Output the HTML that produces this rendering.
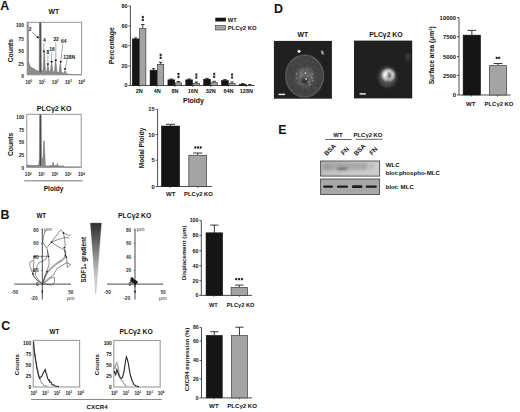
<!DOCTYPE html>
<html><head><meta charset="utf-8"><style>
html,body{margin:0;padding:0;background:#fff;width:520px;height:412px;overflow:hidden}
svg{display:block;font-family:"Liberation Sans",sans-serif}
</style></head><body>
<svg width="520" height="412" viewBox="0 0 520 412">
<defs><linearGradient id="gr" x1="0" y1="0" x2="0" y2="1"><stop offset="0" stop-color="#2e2e2e"/><stop offset="0.35" stop-color="#747474"/><stop offset="0.68" stop-color="#bdbdbd"/><stop offset="1" stop-color="#f8f8f8"/></linearGradient><radialGradient id="cell1" cx="0.5" cy="0.5" r="0.5"><stop offset="0" stop-color="#6e6e6e"/><stop offset="0.3" stop-color="#585858"/><stop offset="0.6" stop-color="#424242"/><stop offset="0.88" stop-color="#474747"/><stop offset="1" stop-color="#333"/></radialGradient><radialGradient id="cell2" cx="0.5" cy="0.5" r="0.5"><stop offset="0" stop-color="#6a6a6a"/><stop offset="0.35" stop-color="#5a5a5a"/><stop offset="0.8" stop-color="#444"/><stop offset="1" stop-color="#262626"/></radialGradient><filter id="nz" x="0" y="0" width="100%" height="100%"><feTurbulence type="fractalNoise" baseFrequency="0.55" numOctaves="2" seed="3"/><feColorMatrix type="matrix" values="0 0 0 0 1  0 0 0 0 1  0 0 0 0 1  0.9 0 0 0 -0.25"/><feComposite in2="SourceGraphic" operator="in"/></filter><clipPath id="cc1"><ellipse cx="304.6" cy="76" rx="19.6" ry="21.6"/></clipPath><filter id="bl2" x="-50%" y="-50%" width="200%" height="200%"><feGaussianBlur stdDeviation="2"/></filter><filter id="bl08" x="-50%" y="-50%" width="200%" height="200%"><feGaussianBlur stdDeviation="0.8"/></filter><linearGradient id="s1" x1="0" y1="0" x2="1" y2="0"><stop offset="0" stop-color="#b2b2b2"/><stop offset="0.5" stop-color="#c0c0c0"/><stop offset="1" stop-color="#cecece"/></linearGradient><filter id="bl1" x="-50%" y="-50%" width="200%" height="200%"><feGaussianBlur stdDeviation="0.9"/></filter><filter id="bl05" x="-50%" y="-50%" width="200%" height="200%"><feGaussianBlur stdDeviation="0.45"/></filter></defs>
<rect x="0" y="0" width="520" height="412" fill="#fff"/>
<text x="0.30" y="10.40" font-size="12.4" text-anchor="start" font-weight="bold" fill="#111">A</text>
<text x="0.60" y="219.40" font-size="12.4" text-anchor="start" font-weight="bold" fill="#111">B</text>
<text x="1.30" y="329.80" font-size="12.4" text-anchor="start" font-weight="bold" fill="#111">C</text>
<text x="274.00" y="13.10" font-size="12.4" text-anchor="start" font-weight="bold" fill="#111">D</text>
<text x="278.20" y="133.80" font-size="12.4" text-anchor="start" font-weight="bold" fill="#111">E</text>
<text x="53.80" y="14.10" font-size="6.8" text-anchor="middle" font-weight="bold" fill="#111">WT</text>
<path d="M27.30,74.70 L27.30,22.30 L28.30,22.30 L28.60,62.12 L29.50,64.74 L30.50,66.84 L32.00,67.89 L33.50,68.41 L35.00,69.46 L36.50,70.51 L38.00,71.03 L39.20,70.51 L39.50,22.30 L41.10,22.30 L41.40,69.98 L42.80,71.03 L43.00,71.03 L43.95,52.17 L44.45,52.17 L45.40,71.03 L46.30,71.56 L46.70,71.56 L47.65,65.79 L48.15,65.79 L49.10,71.56 L50.40,71.56 L51.35,63.70 L51.85,63.70 L52.80,71.56 L54.50,72.08 L55.45,62.12 L55.95,62.12 L56.90,72.08 L59.10,72.60 L60.05,63.70 L60.55,63.70 L61.50,72.60 L63.90,73.13 L64.75,71.03 L65.25,71.03 L66.10,73.13 L68.00,73.91 L72.00,74.44 L81.60,74.70 Z" fill="#8c8c8c" stroke="#5a5a5a" stroke-width="0.45"/>
<line x1="40.30" y1="22.30" x2="40.30" y2="72.60" stroke="#4a4a4a" stroke-width="1.2"/>
<rect x="27.30" y="22.30" width="54.30" height="52.40" fill="none" stroke="#959595" stroke-width="1.0"/>
<text x="23.80" y="26.80" font-size="4.7" text-anchor="end" font-weight="bold" fill="#111">100</text>
<text x="23.80" y="40.60" font-size="4.7" text-anchor="end" font-weight="bold" fill="#111">75</text>
<text x="23.80" y="53.20" font-size="4.7" text-anchor="end" font-weight="bold" fill="#111">50</text>
<text x="23.80" y="66.10" font-size="4.7" text-anchor="end" font-weight="bold" fill="#111">25</text>
<text x="23.80" y="77.50" font-size="4.7" text-anchor="end" font-weight="bold" fill="#111">0</text>
<text x="28.80" y="83.5" font-size="4.6" text-anchor="middle" font-weight="bold" fill="#222">10<tspan dy="-1.6" font-size="2.85">0</tspan></text>
<text x="42.00" y="83.5" font-size="4.6" text-anchor="middle" font-weight="bold" fill="#222">10<tspan dy="-1.6" font-size="2.85">1</tspan></text>
<text x="55.20" y="83.5" font-size="4.6" text-anchor="middle" font-weight="bold" fill="#222">10<tspan dy="-1.6" font-size="2.85">2</tspan></text>
<text x="68.40" y="83.5" font-size="4.6" text-anchor="middle" font-weight="bold" fill="#222">10<tspan dy="-1.6" font-size="2.85">3</tspan></text>
<text x="81.60" y="83.5" font-size="4.6" text-anchor="middle" font-weight="bold" fill="#222">10<tspan dy="-1.6" font-size="2.85">4</tspan></text>
<text x="12.70" y="50.60" font-size="6.8" text-anchor="middle" font-weight="bold" fill="#111" transform="rotate(-90 12.7 50.6)">Counts</text>
<text x="28.80" y="31.40" font-size="4.9" text-anchor="start" font-weight="bold" fill="#111">2</text>
<line x1="32.30" y1="32.40" x2="38.90" y2="38.30" stroke="#333" stroke-width="0.6"/>
<path d="M38.90,38.30 L36.32,37.74 L38.05,35.80 Z" fill="#111"/>
<text x="43.00" y="41.70" font-size="4.9" text-anchor="start" font-weight="bold" fill="#111">4</text>
<line x1="43.90" y1="42.80" x2="43.90" y2="52.80" stroke="#8a8a8a" stroke-width="0.7"/>
<path d="M43.90,52.80 L42.60,50.50 L45.20,50.50 Z" fill="#111"/>
<text x="46.60" y="54.40" font-size="4.9" text-anchor="start" font-weight="bold" fill="#111">8</text>
<line x1="47.90" y1="55.30" x2="47.90" y2="65.80" stroke="#8a8a8a" stroke-width="0.7"/>
<path d="M47.90,65.80 L46.60,63.50 L49.20,63.50 Z" fill="#111"/>
<text x="49.30" y="51.40" font-size="4.9" text-anchor="start" font-weight="bold" fill="#111">16</text>
<line x1="51.60" y1="52.40" x2="51.60" y2="63.40" stroke="#8a8a8a" stroke-width="0.7"/>
<path d="M51.60,63.40 L50.30,61.10 L52.90,61.10 Z" fill="#111"/>
<text x="53.20" y="41.10" font-size="4.9" text-anchor="start" font-weight="bold" fill="#111">32</text>
<line x1="55.80" y1="42.10" x2="55.80" y2="61.90" stroke="#8a8a8a" stroke-width="0.7"/>
<path d="M55.80,61.90 L54.50,59.60 L57.10,59.60 Z" fill="#111"/>
<text x="61.10" y="42.90" font-size="4.9" text-anchor="start" font-weight="bold" fill="#111">64</text>
<line x1="62.80" y1="43.60" x2="60.60" y2="63.40" stroke="#8a8a8a" stroke-width="0.7"/>
<path d="M60.60,63.40 L59.56,60.97 L62.15,61.26 Z" fill="#111"/>
<text x="63.30" y="58.80" font-size="4.9" text-anchor="start" font-weight="bold" fill="#111">128N</text>
<line x1="67.20" y1="59.40" x2="64.80" y2="70.40" stroke="#8a8a8a" stroke-width="0.7"/>
<path d="M64.80,70.40 L64.02,67.88 L66.56,68.43 Z" fill="#111"/>
<text x="54.10" y="110.50" font-size="7.1" text-anchor="middle" font-weight="bold" fill="#111">PLC&#947;2 KO</text>
<path d="M26.80,167.20 L26.80,165.08 L30.00,165.35 L36.00,165.61 L38.80,165.08 L39.40,158.74 L39.70,114.30 L41.20,114.30 L41.50,158.21 L43.00,158.74 L43.80,140.75 L44.20,140.75 L45.00,158.74 L45.30,165.61 L48.00,166.14 L50.00,165.61 L52.50,165.61 L53.10,161.91 L53.80,165.61 L56.80,165.61 L57.50,163.50 L58.20,165.88 L62.50,166.14 L63.00,165.35 L63.60,166.67 L66.00,166.94 L81.20,167.20 Z" fill="#8c8c8c" stroke="#5a5a5a" stroke-width="0.45"/>
<line x1="40.45" y1="114.30" x2="40.45" y2="165.61" stroke="#4a4a4a" stroke-width="1.2"/>
<rect x="26.80" y="114.30" width="54.40" height="52.90" fill="none" stroke="#959595" stroke-width="1.0"/>
<text x="24.20" y="118.90" font-size="4.7" text-anchor="end" font-weight="bold" fill="#111">100</text>
<text x="24.20" y="131.60" font-size="4.7" text-anchor="end" font-weight="bold" fill="#111">75</text>
<text x="24.20" y="144.30" font-size="4.7" text-anchor="end" font-weight="bold" fill="#111">50</text>
<text x="24.20" y="157.00" font-size="4.7" text-anchor="end" font-weight="bold" fill="#111">25</text>
<text x="24.20" y="169.70" font-size="4.7" text-anchor="end" font-weight="bold" fill="#111">0</text>
<text x="28.20" y="176.2" font-size="4.6" text-anchor="middle" font-weight="bold" fill="#222">10<tspan dy="-1.6" font-size="2.85">0</tspan></text>
<text x="41.50" y="176.2" font-size="4.6" text-anchor="middle" font-weight="bold" fill="#222">10<tspan dy="-1.6" font-size="2.85">1</tspan></text>
<text x="54.80" y="176.2" font-size="4.6" text-anchor="middle" font-weight="bold" fill="#222">10<tspan dy="-1.6" font-size="2.85">2</tspan></text>
<text x="68.10" y="176.2" font-size="4.6" text-anchor="middle" font-weight="bold" fill="#222">10<tspan dy="-1.6" font-size="2.85">3</tspan></text>
<text x="81.40" y="176.2" font-size="4.6" text-anchor="middle" font-weight="bold" fill="#222">10<tspan dy="-1.6" font-size="2.85">4</tspan></text>
<text x="12.70" y="144.40" font-size="6.8" text-anchor="middle" font-weight="bold" fill="#111" transform="rotate(-90 12.7 144.4)">Counts</text>
<line x1="24.20" y1="180.80" x2="82.70" y2="180.80" stroke="#a2a2a2" stroke-width="1.6"/>
<text x="53.60" y="191.40" font-size="6.6" text-anchor="middle" font-weight="bold" fill="#111">Ploidy</text>
<line x1="130.40" y1="6.00" x2="130.40" y2="85.50" stroke="#3a3a3a" stroke-width="0.9"/>
<line x1="128.40" y1="6.00" x2="130.40" y2="6.00" stroke="#3a3a3a" stroke-width="0.9"/>
<text x="127.40" y="7.94" font-size="5.4" text-anchor="end" font-weight="bold" fill="#111">80</text>
<line x1="128.40" y1="25.90" x2="130.40" y2="25.90" stroke="#3a3a3a" stroke-width="0.9"/>
<text x="127.40" y="27.84" font-size="5.4" text-anchor="end" font-weight="bold" fill="#111">60</text>
<line x1="128.40" y1="45.70" x2="130.40" y2="45.70" stroke="#3a3a3a" stroke-width="0.9"/>
<text x="127.40" y="47.64" font-size="5.4" text-anchor="end" font-weight="bold" fill="#111">40</text>
<line x1="128.40" y1="65.90" x2="130.40" y2="65.90" stroke="#3a3a3a" stroke-width="0.9"/>
<text x="127.40" y="67.84" font-size="5.4" text-anchor="end" font-weight="bold" fill="#111">20</text>
<line x1="128.40" y1="85.50" x2="130.40" y2="85.50" stroke="#3a3a3a" stroke-width="0.9"/>
<text x="127.40" y="87.44" font-size="5.4" text-anchor="end" font-weight="bold" fill="#111">0</text>
<line x1="130.40" y1="85.50" x2="254.50" y2="85.50" stroke="#3a3a3a" stroke-width="0.9"/>
<line x1="139.30" y1="85.50" x2="139.30" y2="87.00" stroke="#3a3a3a" stroke-width="0.7"/>
<line x1="157.15" y1="85.50" x2="157.15" y2="87.00" stroke="#3a3a3a" stroke-width="0.7"/>
<line x1="175.00" y1="85.50" x2="175.00" y2="87.00" stroke="#3a3a3a" stroke-width="0.7"/>
<line x1="192.85" y1="85.50" x2="192.85" y2="87.00" stroke="#3a3a3a" stroke-width="0.7"/>
<line x1="210.70" y1="85.50" x2="210.70" y2="87.00" stroke="#3a3a3a" stroke-width="0.7"/>
<line x1="228.55" y1="85.50" x2="228.55" y2="87.00" stroke="#3a3a3a" stroke-width="0.7"/>
<line x1="246.40" y1="85.50" x2="246.40" y2="87.00" stroke="#3a3a3a" stroke-width="0.7"/>
<line x1="135.65" y1="38.90" x2="135.65" y2="37.90" stroke="#222" stroke-width="0.9"/>
<line x1="133.92" y1="37.90" x2="137.37" y2="37.90" stroke="#222" stroke-width="0.9"/>
<rect x="132.20" y="38.90" width="6.90" height="46.60" fill="#151515" stroke="#111" stroke-width="0.5"/>
<line x1="142.75" y1="28.00" x2="142.75" y2="24.50" stroke="#222" stroke-width="0.9"/>
<line x1="141.03" y1="24.50" x2="144.47" y2="24.50" stroke="#222" stroke-width="0.9"/>
<rect x="139.65" y="28.35" width="6.20" height="57.15" fill="#a4a4a4" stroke="#3a3a3a" stroke-width="0.7"/>
<line x1="153.50" y1="70.20" x2="153.50" y2="68.70" stroke="#222" stroke-width="0.9"/>
<line x1="151.78" y1="68.70" x2="155.22" y2="68.70" stroke="#222" stroke-width="0.9"/>
<rect x="150.05" y="70.20" width="6.90" height="15.30" fill="#151515" stroke="#111" stroke-width="0.5"/>
<line x1="160.60" y1="64.00" x2="160.60" y2="62.30" stroke="#222" stroke-width="0.9"/>
<line x1="158.87" y1="62.30" x2="162.32" y2="62.30" stroke="#222" stroke-width="0.9"/>
<rect x="157.50" y="64.35" width="6.20" height="21.15" fill="#a4a4a4" stroke="#3a3a3a" stroke-width="0.7"/>
<line x1="171.35" y1="79.80" x2="171.35" y2="79.00" stroke="#222" stroke-width="0.9"/>
<line x1="169.62" y1="79.00" x2="173.07" y2="79.00" stroke="#222" stroke-width="0.9"/>
<rect x="167.90" y="79.80" width="6.90" height="5.70" fill="#151515" stroke="#111" stroke-width="0.5"/>
<line x1="178.45" y1="82.50" x2="178.45" y2="81.50" stroke="#222" stroke-width="0.9"/>
<line x1="176.72" y1="81.50" x2="180.17" y2="81.50" stroke="#222" stroke-width="0.9"/>
<rect x="175.35" y="82.85" width="6.20" height="2.65" fill="#a4a4a4" stroke="#3a3a3a" stroke-width="0.7"/>
<line x1="189.20" y1="79.80" x2="189.20" y2="79.00" stroke="#222" stroke-width="0.9"/>
<line x1="187.47" y1="79.00" x2="190.92" y2="79.00" stroke="#222" stroke-width="0.9"/>
<rect x="185.75" y="79.80" width="6.90" height="5.70" fill="#151515" stroke="#111" stroke-width="0.5"/>
<line x1="196.30" y1="83.00" x2="196.30" y2="82.00" stroke="#222" stroke-width="0.9"/>
<line x1="194.58" y1="82.00" x2="198.03" y2="82.00" stroke="#222" stroke-width="0.9"/>
<rect x="193.20" y="83.35" width="6.20" height="2.15" fill="#a4a4a4" stroke="#3a3a3a" stroke-width="0.7"/>
<line x1="207.05" y1="79.20" x2="207.05" y2="78.40" stroke="#222" stroke-width="0.9"/>
<line x1="205.33" y1="78.40" x2="208.78" y2="78.40" stroke="#222" stroke-width="0.9"/>
<rect x="203.60" y="79.20" width="6.90" height="6.30" fill="#151515" stroke="#111" stroke-width="0.5"/>
<line x1="214.15" y1="82.30" x2="214.15" y2="81.30" stroke="#222" stroke-width="0.9"/>
<line x1="212.42" y1="81.30" x2="215.87" y2="81.30" stroke="#222" stroke-width="0.9"/>
<rect x="211.05" y="82.65" width="6.20" height="2.85" fill="#a4a4a4" stroke="#3a3a3a" stroke-width="0.7"/>
<line x1="224.90" y1="80.40" x2="224.90" y2="79.60" stroke="#222" stroke-width="0.9"/>
<line x1="223.17" y1="79.60" x2="226.62" y2="79.60" stroke="#222" stroke-width="0.9"/>
<rect x="221.45" y="80.40" width="6.90" height="5.10" fill="#151515" stroke="#111" stroke-width="0.5"/>
<line x1="232.00" y1="83.00" x2="232.00" y2="82.00" stroke="#222" stroke-width="0.9"/>
<line x1="230.28" y1="82.00" x2="233.72" y2="82.00" stroke="#222" stroke-width="0.9"/>
<rect x="228.90" y="83.35" width="6.20" height="2.15" fill="#a4a4a4" stroke="#3a3a3a" stroke-width="0.7"/>
<line x1="242.75" y1="84.20" x2="242.75" y2="83.60" stroke="#222" stroke-width="0.9"/>
<line x1="241.03" y1="83.60" x2="244.47" y2="83.60" stroke="#222" stroke-width="0.9"/>
<rect x="239.30" y="84.20" width="6.90" height="1.30" fill="#151515" stroke="#111" stroke-width="0.5"/>
<line x1="249.85" y1="85.00" x2="249.85" y2="84.50" stroke="#222" stroke-width="0.9"/>
<line x1="248.13" y1="84.50" x2="251.58" y2="84.50" stroke="#222" stroke-width="0.9"/>
<rect x="246.75" y="85.35" width="6.20" height="0.15" fill="#a4a4a4" stroke="#3a3a3a" stroke-width="0.7"/>
<line x1="142.80" y1="15.85" x2="142.80" y2="18.35" stroke="#111" stroke-width="0.85"/>
<line x1="143.88" y1="16.48" x2="141.72" y2="17.73" stroke="#111" stroke-width="0.85"/>
<line x1="143.88" y1="17.73" x2="141.72" y2="16.48" stroke="#111" stroke-width="0.85"/>
<line x1="142.80" y1="18.75" x2="142.80" y2="21.25" stroke="#111" stroke-width="0.85"/>
<line x1="143.88" y1="19.38" x2="141.72" y2="20.62" stroke="#111" stroke-width="0.85"/>
<line x1="143.88" y1="20.62" x2="141.72" y2="19.38" stroke="#111" stroke-width="0.85"/>
<text x="139.30" y="92.90" font-size="5.5" text-anchor="middle" font-weight="bold" fill="#111">2N</text>
<line x1="160.65" y1="53.65" x2="160.65" y2="56.15" stroke="#111" stroke-width="0.85"/>
<line x1="161.73" y1="54.27" x2="159.57" y2="55.52" stroke="#111" stroke-width="0.85"/>
<line x1="161.73" y1="55.52" x2="159.57" y2="54.27" stroke="#111" stroke-width="0.85"/>
<line x1="160.65" y1="56.55" x2="160.65" y2="59.05" stroke="#111" stroke-width="0.85"/>
<line x1="161.73" y1="57.17" x2="159.57" y2="58.42" stroke="#111" stroke-width="0.85"/>
<line x1="161.73" y1="58.42" x2="159.57" y2="57.17" stroke="#111" stroke-width="0.85"/>
<text x="157.15" y="92.90" font-size="5.5" text-anchor="middle" font-weight="bold" fill="#111">4N</text>
<line x1="178.50" y1="72.85" x2="178.50" y2="75.35" stroke="#111" stroke-width="0.85"/>
<line x1="179.58" y1="73.47" x2="177.42" y2="74.72" stroke="#111" stroke-width="0.85"/>
<line x1="179.58" y1="74.72" x2="177.42" y2="73.47" stroke="#111" stroke-width="0.85"/>
<line x1="178.50" y1="75.75" x2="178.50" y2="78.25" stroke="#111" stroke-width="0.85"/>
<line x1="179.58" y1="76.38" x2="177.42" y2="77.62" stroke="#111" stroke-width="0.85"/>
<line x1="179.58" y1="77.62" x2="177.42" y2="76.38" stroke="#111" stroke-width="0.85"/>
<text x="175.00" y="92.90" font-size="5.5" text-anchor="middle" font-weight="bold" fill="#111">8N</text>
<line x1="196.35" y1="73.35" x2="196.35" y2="75.85" stroke="#111" stroke-width="0.85"/>
<line x1="197.43" y1="73.97" x2="195.27" y2="75.22" stroke="#111" stroke-width="0.85"/>
<line x1="197.43" y1="75.22" x2="195.27" y2="73.97" stroke="#111" stroke-width="0.85"/>
<line x1="196.35" y1="76.25" x2="196.35" y2="78.75" stroke="#111" stroke-width="0.85"/>
<line x1="197.43" y1="76.88" x2="195.27" y2="78.12" stroke="#111" stroke-width="0.85"/>
<line x1="197.43" y1="78.12" x2="195.27" y2="76.88" stroke="#111" stroke-width="0.85"/>
<text x="192.85" y="92.90" font-size="5.5" text-anchor="middle" font-weight="bold" fill="#111">16N</text>
<line x1="214.20" y1="72.65" x2="214.20" y2="75.15" stroke="#111" stroke-width="0.85"/>
<line x1="215.28" y1="73.27" x2="213.12" y2="74.52" stroke="#111" stroke-width="0.85"/>
<line x1="215.28" y1="74.52" x2="213.12" y2="73.27" stroke="#111" stroke-width="0.85"/>
<line x1="214.20" y1="75.55" x2="214.20" y2="78.05" stroke="#111" stroke-width="0.85"/>
<line x1="215.28" y1="76.17" x2="213.12" y2="77.42" stroke="#111" stroke-width="0.85"/>
<line x1="215.28" y1="77.42" x2="213.12" y2="76.17" stroke="#111" stroke-width="0.85"/>
<text x="210.70" y="92.90" font-size="5.5" text-anchor="middle" font-weight="bold" fill="#111">32N</text>
<line x1="232.05" y1="73.35" x2="232.05" y2="75.85" stroke="#111" stroke-width="0.85"/>
<line x1="233.13" y1="73.97" x2="230.97" y2="75.22" stroke="#111" stroke-width="0.85"/>
<line x1="233.13" y1="75.22" x2="230.97" y2="73.97" stroke="#111" stroke-width="0.85"/>
<line x1="232.05" y1="76.25" x2="232.05" y2="78.75" stroke="#111" stroke-width="0.85"/>
<line x1="233.13" y1="76.88" x2="230.97" y2="78.12" stroke="#111" stroke-width="0.85"/>
<line x1="233.13" y1="78.12" x2="230.97" y2="76.88" stroke="#111" stroke-width="0.85"/>
<text x="228.55" y="92.90" font-size="5.5" text-anchor="middle" font-weight="bold" fill="#111">64N</text>
<text x="246.40" y="92.90" font-size="5.5" text-anchor="middle" font-weight="bold" fill="#111">128N</text>
<text x="113.70" y="45.70" font-size="6.9" text-anchor="middle" font-weight="bold" fill="#111" transform="rotate(-90 113.7 45.7)">Percentage</text>
<text x="193.50" y="102.90" font-size="7.0" text-anchor="middle" font-weight="bold" fill="#111">Ploidy</text>
<rect x="215.30" y="17.70" width="10.60" height="3.80" fill="#151515" stroke="none" stroke-width="1"/>
<text x="227.80" y="21.60" font-size="5.9" text-anchor="start" font-weight="bold" fill="#111">WT</text>
<rect x="215.60" y="25.50" width="10.00" height="4.50" fill="#a4a4a4" stroke="#333" stroke-width="0.6"/>
<text x="227.80" y="30.20" font-size="5.9" text-anchor="start" font-weight="bold" fill="#111">PLC&#947;2 KO</text>
<line x1="157.60" y1="109.40" x2="157.60" y2="186.50" stroke="#3a3a3a" stroke-width="0.9"/>
<line x1="155.60" y1="109.40" x2="157.60" y2="109.40" stroke="#3a3a3a" stroke-width="0.9"/>
<text x="154.60" y="111.45" font-size="5.7" text-anchor="end" font-weight="bold" fill="#111">15</text>
<line x1="155.60" y1="134.50" x2="157.60" y2="134.50" stroke="#3a3a3a" stroke-width="0.9"/>
<text x="154.60" y="136.55" font-size="5.7" text-anchor="end" font-weight="bold" fill="#111">10</text>
<line x1="155.60" y1="160.20" x2="157.60" y2="160.20" stroke="#3a3a3a" stroke-width="0.9"/>
<text x="154.60" y="162.25" font-size="5.7" text-anchor="end" font-weight="bold" fill="#111">5</text>
<line x1="155.60" y1="186.50" x2="157.60" y2="186.50" stroke="#3a3a3a" stroke-width="0.9"/>
<text x="154.60" y="188.55" font-size="5.7" text-anchor="end" font-weight="bold" fill="#111">0</text>
<line x1="157.60" y1="186.50" x2="211.90" y2="186.50" stroke="#3a3a3a" stroke-width="0.9"/>
<line x1="170.20" y1="186.50" x2="170.20" y2="188.00" stroke="#3a3a3a" stroke-width="0.7"/>
<line x1="197.70" y1="186.50" x2="197.70" y2="188.00" stroke="#3a3a3a" stroke-width="0.7"/>
<line x1="170.55" y1="126.00" x2="170.55" y2="124.30" stroke="#222" stroke-width="0.9"/>
<line x1="165.98" y1="124.30" x2="175.12" y2="124.30" stroke="#222" stroke-width="0.9"/>
<rect x="161.40" y="126.00" width="18.30" height="60.50" fill="#151515" stroke="#111" stroke-width="0.5"/>
<line x1="197.65" y1="154.90" x2="197.65" y2="153.00" stroke="#222" stroke-width="0.9"/>
<line x1="193.07" y1="153.00" x2="202.23" y2="153.00" stroke="#222" stroke-width="0.9"/>
<rect x="188.85" y="155.25" width="17.60" height="31.25" fill="#a4a4a4" stroke="#3a3a3a" stroke-width="0.7"/>
<line x1="195.30" y1="146.25" x2="195.30" y2="148.75" stroke="#111" stroke-width="0.85"/>
<line x1="196.38" y1="146.88" x2="194.22" y2="148.12" stroke="#111" stroke-width="0.85"/>
<line x1="196.38" y1="148.12" x2="194.22" y2="146.88" stroke="#111" stroke-width="0.85"/>
<line x1="198.00" y1="146.25" x2="198.00" y2="148.75" stroke="#111" stroke-width="0.85"/>
<line x1="199.08" y1="146.88" x2="196.92" y2="148.12" stroke="#111" stroke-width="0.85"/>
<line x1="199.08" y1="148.12" x2="196.92" y2="146.88" stroke="#111" stroke-width="0.85"/>
<line x1="200.70" y1="146.25" x2="200.70" y2="148.75" stroke="#111" stroke-width="0.85"/>
<line x1="201.78" y1="146.88" x2="199.62" y2="148.12" stroke="#111" stroke-width="0.85"/>
<line x1="201.78" y1="148.12" x2="199.62" y2="146.88" stroke="#111" stroke-width="0.85"/>
<text x="170.70" y="195.60" font-size="6.0" text-anchor="middle" font-weight="bold" fill="#111">WT</text>
<text x="198.50" y="195.60" font-size="5.9" text-anchor="middle" font-weight="bold" fill="#111">PLC&#947;2 KO</text>
<text x="144.40" y="148.00" font-size="6.6" text-anchor="middle" font-weight="bold" fill="#111" transform="rotate(-90 144.4 148.0)">Modal Ploidy</text>
<text x="41.30" y="217.70" font-size="6.3" text-anchor="middle" font-weight="bold" fill="#111">WT</text>
<text x="134.70" y="217.60" font-size="6.8" text-anchor="middle" font-weight="bold" fill="#111">PLC&#947;2 KO</text>
<line x1="14.20" y1="284.10" x2="71.00" y2="284.10" stroke="#2a2a2a" stroke-width="0.85"/>
<line x1="42.30" y1="228.50" x2="42.30" y2="299.50" stroke="#2a2a2a" stroke-width="0.85"/>
<line x1="41.00" y1="229.90" x2="42.30" y2="229.90" stroke="#3a3a3a" stroke-width="0.6"/>
<text x="38.50" y="231.60" font-size="4.7" text-anchor="end" font-weight="bold" fill="#333">80</text>
<line x1="41.00" y1="243.45" x2="42.30" y2="243.45" stroke="#3a3a3a" stroke-width="0.6"/>
<text x="38.50" y="245.15" font-size="4.7" text-anchor="end" font-weight="bold" fill="#333">60</text>
<line x1="41.00" y1="257.00" x2="42.30" y2="257.00" stroke="#3a3a3a" stroke-width="0.6"/>
<text x="38.50" y="258.70" font-size="4.7" text-anchor="end" font-weight="bold" fill="#333">40</text>
<line x1="41.00" y1="270.55" x2="42.30" y2="270.55" stroke="#3a3a3a" stroke-width="0.6"/>
<text x="38.50" y="272.25" font-size="4.7" text-anchor="end" font-weight="bold" fill="#333">20</text>
<text x="38.50" y="285.80" font-size="4.7" text-anchor="end" font-weight="bold" fill="#333">0</text>
<text x="37.60" y="299.50" font-size="4.7" text-anchor="end" font-weight="bold" fill="#333">-20</text>
<text x="14.80" y="293.60" font-size="4.7" text-anchor="middle" font-weight="bold" fill="#333">-50</text>
<text x="70.80" y="293.60" font-size="4.7" text-anchor="middle" font-weight="bold" fill="#333">50</text>
<text x="70.60" y="299.70" font-size="5.4" text-anchor="middle" font-weight="normal" fill="#333">&#956;m</text>
<text x="44.10" y="231.20" font-size="5.4" text-anchor="start" font-weight="normal" fill="#333">&#956;m</text>
<ellipse cx="42.3" cy="291.6" rx="0.8" ry="1.3" fill="#222"/>
<line x1="107.00" y1="284.10" x2="163.30" y2="284.10" stroke="#2a2a2a" stroke-width="0.85"/>
<line x1="135.00" y1="228.50" x2="135.00" y2="299.50" stroke="#2a2a2a" stroke-width="0.85"/>
<line x1="133.70" y1="229.90" x2="135.00" y2="229.90" stroke="#3a3a3a" stroke-width="0.6"/>
<text x="131.20" y="231.60" font-size="4.7" text-anchor="end" font-weight="bold" fill="#333">80</text>
<line x1="133.70" y1="243.45" x2="135.00" y2="243.45" stroke="#3a3a3a" stroke-width="0.6"/>
<text x="131.20" y="245.15" font-size="4.7" text-anchor="end" font-weight="bold" fill="#333">60</text>
<line x1="133.70" y1="257.00" x2="135.00" y2="257.00" stroke="#3a3a3a" stroke-width="0.6"/>
<text x="131.20" y="258.70" font-size="4.7" text-anchor="end" font-weight="bold" fill="#333">40</text>
<line x1="133.70" y1="270.55" x2="135.00" y2="270.55" stroke="#3a3a3a" stroke-width="0.6"/>
<text x="131.20" y="272.25" font-size="4.7" text-anchor="end" font-weight="bold" fill="#333">20</text>
<text x="131.20" y="285.80" font-size="4.7" text-anchor="end" font-weight="bold" fill="#333">0</text>
<text x="130.30" y="299.50" font-size="4.7" text-anchor="end" font-weight="bold" fill="#333">-20</text>
<text x="107.60" y="293.60" font-size="4.7" text-anchor="middle" font-weight="bold" fill="#333">-50</text>
<text x="163.10" y="293.60" font-size="4.7" text-anchor="middle" font-weight="bold" fill="#333">50</text>
<text x="162.90" y="299.70" font-size="5.4" text-anchor="middle" font-weight="normal" fill="#333">&#956;m</text>
<text x="136.80" y="231.20" font-size="5.4" text-anchor="start" font-weight="normal" fill="#333">&#956;m</text>
<ellipse cx="135.0" cy="291.6" rx="0.8" ry="1.3" fill="#222"/>
<path d="M45.30,231.00 L43.50,236.40 L42.80,241.70 L43.90,244.40 L46.60,247.90 L47.50,250.50 L47.40,254.50 L46.90,256.80 L45.50,259.70 L39.20,262.60 L37.20,265.50 L35.80,271.40 L35.30,275.20 L37.70,279.10 L41.60,283.50" fill="none" stroke="#2e2e2e" stroke-width="0.55"/>
<path d="M46.60,247.90 L51.50,242.10 L60.70,229.80 L63.40,232.80 L68.70,235.50 L70.50,234.60" fill="none" stroke="#2e2e2e" stroke-width="0.55"/>
<path d="M51.50,242.10 L58.00,239.50 L65.20,237.30 L69.60,238.20" fill="none" stroke="#2e2e2e" stroke-width="0.55"/>
<path d="M51.50,242.10 L57.20,246.10 L64.30,249.70 L66.00,253.20" fill="none" stroke="#2e2e2e" stroke-width="0.55"/>
<path d="M63.40,232.80 L64.70,239.00 L65.20,246.10 L64.70,249.70 L65.40,254.90 L66.80,259.70 L67.30,267.50 L70.70,264.60" fill="none" stroke="#2e2e2e" stroke-width="0.55"/>
<path d="M33.30,256.30 L40.00,256.30 L47.40,256.30" fill="none" stroke="#2e2e2e" stroke-width="0.55"/>
<path d="M33.80,256.30 L33.80,262.60 L33.30,269.40 L32.90,274.30 L34.00,277.00 L37.00,280.00 L40.00,282.50 L42.40,284.00" fill="none" stroke="#2e2e2e" stroke-width="0.55"/>
<path d="M32.90,260.70 L30.40,261.70 L29.90,262.60 L29.90,265.50 L31.90,271.40 L33.50,276.00 L36.50,279.50 L42.40,284.00" fill="none" stroke="#2e2e2e" stroke-width="0.55"/>
<path d="M47.40,250.00 L48.40,254.00 L48.90,259.70 L49.20,264.00 L48.00,268.00 L46.50,272.00 L45.00,276.20 L43.50,280.00 L42.40,284.00" fill="none" stroke="#2e2e2e" stroke-width="0.55"/>
<path d="M42.60,283.50 L45.00,276.20 L47.40,271.40 L51.30,267.50 L57.10,262.60 L62.00,259.70 L65.40,255.80" fill="none" stroke="#2e2e2e" stroke-width="0.55"/>
<path d="M42.80,283.60 L45.60,276.60 L48.00,272.00 L52.00,268.30 L57.60,263.40 L62.40,260.60 L65.80,256.60" fill="none" stroke="#2e2e2e" stroke-width="0.55"/>
<path d="M43.50,283.00 L47.40,279.10 L53.20,275.20 L57.10,268.40 L62.00,265.50 L66.80,262.60 L70.70,264.60" fill="none" stroke="#2e2e2e" stroke-width="0.55"/>
<path d="M42.60,284.00 L47.40,284.20 L51.30,285.20 L54.20,283.00 L54.70,279.10 L54.20,277.20 L50.30,278.20 L46.90,281.10 L44.00,283.00" fill="none" stroke="#2e2e2e" stroke-width="0.55"/>
<path d="M65.40,254.90 L64.90,250.00" fill="none" stroke="#2e2e2e" stroke-width="0.55"/>
<circle cx="34.8" cy="256.3" r="0.85" fill="#222"/>
<circle cx="33.8" cy="270.4" r="0.85" fill="#222"/>
<circle cx="32.9" cy="273.8" r="0.85" fill="#222"/>
<circle cx="51.5" cy="242.1" r="0.85" fill="#222"/>
<circle cx="63.4" cy="232.8" r="0.85" fill="#222"/>
<circle cx="64.3" cy="247.5" r="0.85" fill="#222"/>
<circle cx="65.4" cy="255.3" r="0.85" fill="#222"/>
<circle cx="66.3" cy="257" r="0.85" fill="#222"/>
<circle cx="48.5" cy="256.3" r="0.85" fill="#222"/>
<circle cx="47.0" cy="271.5" r="0.85" fill="#222"/>
<path d="M131,277.6 L132.6,277.2 L133.6,278.6 L134.2,279.6 L136,280.2 L137.6,281.4 L137.9,283 L136.5,283.6 L135.6,285.2 L135.2,287.4 L134.6,287.4 L134.5,284.6 L133,283 L131.2,282.2 L129.8,281 L130.8,280 L130.4,278.6 Z" fill="#1a1a1a"/>
<path d="M130.20,282.30 L131.50,283.50 L133.00,284.20" fill="none" stroke="#333" stroke-width="0.6"/>
<path d="M90.3,223.0 L101.5,223.0 Q98.6,258 95.8,293.3 Q93.2,258 90.3,223.0 Z" fill="url(#gr)" stroke="#777" stroke-width="0.3"/>
<text x="85.9" y="259.7" font-size="6.3" text-anchor="middle" font-weight="bold" fill="#111" transform="rotate(-90 85.9 259.7)">SDF1<tspan font-size="4.4">&#945;</tspan> gradient</text>
<line x1="201.30" y1="220.60" x2="201.30" y2="295.40" stroke="#3a3a3a" stroke-width="0.9"/>
<line x1="199.30" y1="220.60" x2="201.30" y2="220.60" stroke="#3a3a3a" stroke-width="0.9"/>
<text x="198.30" y="222.47" font-size="5.2" text-anchor="end" font-weight="bold" fill="#111">100</text>
<line x1="199.30" y1="235.40" x2="201.30" y2="235.40" stroke="#3a3a3a" stroke-width="0.9"/>
<text x="198.30" y="237.27" font-size="5.2" text-anchor="end" font-weight="bold" fill="#111">80</text>
<line x1="199.30" y1="250.80" x2="201.30" y2="250.80" stroke="#3a3a3a" stroke-width="0.9"/>
<text x="198.30" y="252.67" font-size="5.2" text-anchor="end" font-weight="bold" fill="#111">60</text>
<line x1="199.30" y1="265.80" x2="201.30" y2="265.80" stroke="#3a3a3a" stroke-width="0.9"/>
<text x="198.30" y="267.67" font-size="5.2" text-anchor="end" font-weight="bold" fill="#111">40</text>
<line x1="199.30" y1="280.80" x2="201.30" y2="280.80" stroke="#3a3a3a" stroke-width="0.9"/>
<text x="198.30" y="282.67" font-size="5.2" text-anchor="end" font-weight="bold" fill="#111">20</text>
<line x1="199.30" y1="295.40" x2="201.30" y2="295.40" stroke="#3a3a3a" stroke-width="0.9"/>
<text x="198.30" y="297.27" font-size="5.2" text-anchor="end" font-weight="bold" fill="#111">0</text>
<line x1="201.30" y1="295.40" x2="252.00" y2="295.40" stroke="#3a3a3a" stroke-width="0.9"/>
<line x1="214.00" y1="295.40" x2="214.00" y2="296.90" stroke="#3a3a3a" stroke-width="0.7"/>
<line x1="239.20" y1="295.40" x2="239.20" y2="296.90" stroke="#3a3a3a" stroke-width="0.7"/>
<line x1="214.35" y1="232.80" x2="214.35" y2="225.10" stroke="#222" stroke-width="0.9"/>
<line x1="210.18" y1="225.10" x2="218.52" y2="225.10" stroke="#222" stroke-width="0.9"/>
<rect x="206.00" y="232.80" width="16.70" height="62.60" fill="#151515" stroke="#111" stroke-width="0.5"/>
<line x1="239.30" y1="287.10" x2="239.30" y2="285.10" stroke="#222" stroke-width="0.9"/>
<line x1="235.05" y1="285.10" x2="243.55" y2="285.10" stroke="#222" stroke-width="0.9"/>
<rect x="231.15" y="287.45" width="16.30" height="7.95" fill="#a4a4a4" stroke="#3a3a3a" stroke-width="0.7"/>
<line x1="236.20" y1="277.85" x2="236.20" y2="280.35" stroke="#111" stroke-width="0.85"/>
<line x1="237.28" y1="278.48" x2="235.12" y2="279.73" stroke="#111" stroke-width="0.85"/>
<line x1="237.28" y1="279.73" x2="235.12" y2="278.48" stroke="#111" stroke-width="0.85"/>
<line x1="239.10" y1="277.85" x2="239.10" y2="280.35" stroke="#111" stroke-width="0.85"/>
<line x1="240.18" y1="278.48" x2="238.02" y2="279.73" stroke="#111" stroke-width="0.85"/>
<line x1="240.18" y1="279.73" x2="238.02" y2="278.48" stroke="#111" stroke-width="0.85"/>
<line x1="242.00" y1="277.85" x2="242.00" y2="280.35" stroke="#111" stroke-width="0.85"/>
<line x1="243.08" y1="278.48" x2="240.92" y2="279.73" stroke="#111" stroke-width="0.85"/>
<line x1="243.08" y1="279.73" x2="240.92" y2="278.48" stroke="#111" stroke-width="0.85"/>
<text x="213.30" y="306.50" font-size="5.7" text-anchor="middle" font-weight="bold" fill="#111">WT</text>
<text x="240.60" y="306.50" font-size="5.7" text-anchor="middle" font-weight="bold" fill="#111">PLC&#947;2 KO</text>
<text x="185.90" y="252.90" font-size="6.1" text-anchor="middle" font-weight="bold" fill="#111" transform="rotate(-90 185.9 252.9)">Displacement (&#956;m)</text>
<text x="54.40" y="333.70" font-size="6.3" text-anchor="middle" font-weight="bold" fill="#111">WT</text>
<text x="136.10" y="333.90" font-size="6.8" text-anchor="middle" font-weight="bold" fill="#111">PLC&#947;2 KO</text>
<rect x="33.20" y="340.40" width="46.40" height="46.60" fill="none" stroke="#9c9c9c" stroke-width="1.1"/>
<text x="31.10" y="344.95" font-size="4.8" text-anchor="end" font-weight="bold" fill="#111">100</text>
<text x="31.10" y="355.95" font-size="4.8" text-anchor="end" font-weight="bold" fill="#111">75</text>
<text x="31.10" y="366.95" font-size="4.8" text-anchor="end" font-weight="bold" fill="#111">50</text>
<text x="31.10" y="377.95" font-size="4.8" text-anchor="end" font-weight="bold" fill="#111">25</text>
<text x="31.10" y="388.95" font-size="4.8" text-anchor="end" font-weight="bold" fill="#111">0</text>
<text x="33.70" y="394.6" font-size="4.5" text-anchor="middle" font-weight="bold" fill="#222">10<tspan dy="-1.6" font-size="2.79">0</tspan></text>
<text x="45.40" y="394.6" font-size="4.5" text-anchor="middle" font-weight="bold" fill="#222">10<tspan dy="-1.6" font-size="2.79">1</tspan></text>
<text x="57.10" y="394.6" font-size="4.5" text-anchor="middle" font-weight="bold" fill="#222">10<tspan dy="-1.6" font-size="2.79">2</tspan></text>
<text x="68.80" y="394.6" font-size="4.5" text-anchor="middle" font-weight="bold" fill="#222">10<tspan dy="-1.6" font-size="2.79">3</tspan></text>
<text x="80.50" y="394.6" font-size="4.5" text-anchor="middle" font-weight="bold" fill="#222">10<tspan dy="-1.6" font-size="2.79">4</tspan></text>
<text x="19.50" y="364.60" font-size="6.2" text-anchor="middle" font-weight="bold" fill="#111" transform="rotate(-90 19.5 364.6)">Counts</text>
<rect x="113.80" y="340.50" width="46.40" height="46.50" fill="none" stroke="#9c9c9c" stroke-width="1.1"/>
<text x="111.70" y="344.95" font-size="4.8" text-anchor="end" font-weight="bold" fill="#111">100</text>
<text x="111.70" y="355.95" font-size="4.8" text-anchor="end" font-weight="bold" fill="#111">75</text>
<text x="111.70" y="366.95" font-size="4.8" text-anchor="end" font-weight="bold" fill="#111">50</text>
<text x="111.70" y="377.95" font-size="4.8" text-anchor="end" font-weight="bold" fill="#111">25</text>
<text x="111.70" y="388.95" font-size="4.8" text-anchor="end" font-weight="bold" fill="#111">0</text>
<text x="114.30" y="394.6" font-size="4.5" text-anchor="middle" font-weight="bold" fill="#222">10<tspan dy="-1.6" font-size="2.79">0</tspan></text>
<text x="126.00" y="394.6" font-size="4.5" text-anchor="middle" font-weight="bold" fill="#222">10<tspan dy="-1.6" font-size="2.79">1</tspan></text>
<text x="137.70" y="394.6" font-size="4.5" text-anchor="middle" font-weight="bold" fill="#222">10<tspan dy="-1.6" font-size="2.79">2</tspan></text>
<text x="149.40" y="394.6" font-size="4.5" text-anchor="middle" font-weight="bold" fill="#222">10<tspan dy="-1.6" font-size="2.79">3</tspan></text>
<text x="161.10" y="394.6" font-size="4.5" text-anchor="middle" font-weight="bold" fill="#222">10<tspan dy="-1.6" font-size="2.79">4</tspan></text>
<text x="99.50" y="364.60" font-size="6.2" text-anchor="middle" font-weight="bold" fill="#111" transform="rotate(-90 99.5 364.6)">Counts</text>
<path d="M33.70,345.00 L34.20,352.00 L34.80,356.00 L35.30,355.00 L36.00,364.00 L36.60,366.00 L37.20,369.50 L38.00,371.00 L38.50,374.00 L39.20,376.50 L39.80,378.50 L40.60,380.00 L41.40,382.80 L42.50,383.50 L43.90,385.30 L45.50,385.80 L47.70,386.50" fill="none" stroke="#9a9a9a" stroke-width="1.1"/>
<path d="M33.60,341.50 L34.00,349.00 L34.60,352.50 L35.10,356.50 L35.70,360.70 L36.30,363.50 L36.90,368.30 L37.60,370.50 L38.20,374.60 L38.90,376.50 L39.50,378.40 L40.50,377.50 L42.00,375.90 L43.50,372.50 L45.20,369.60 L45.80,372.00 L46.60,374.50 L47.70,378.40 L48.50,380.20 L49.20,379.80 L49.90,382.20 L50.80,382.00 L52.10,384.70 L53.50,384.90 L55.30,386.00 L57.00,386.20 L59.00,386.60" fill="none" stroke="#2e2e2e" stroke-width="1.15"/>
<path d="M113.90,369.00 L114.40,366.30 L115.10,368.00 L115.70,365.10 L116.30,363.80 L116.90,362.60 L117.50,365.00 L118.20,367.00 L118.80,372.10 L119.40,374.50 L120.10,378.40 L121.00,379.50 L122.00,380.90 L123.00,382.00 L123.90,383.50 L125.00,385.00 L126.40,386.00" fill="none" stroke="#a0a0a0" stroke-width="1.2"/>
<path d="M113.90,372.00 L114.40,371.50 L115.10,373.50 L115.70,374.60 L116.30,372.00 L116.90,369.60 L117.50,371.50 L118.20,373.40 L118.90,375.50 L119.50,376.50 L120.40,377.60 L121.40,378.40 L122.00,378.00 L122.60,377.10 L123.20,374.50 L123.90,372.10 L124.50,368.00 L125.20,363.30 L125.80,359.50 L126.40,356.90 L127.00,358.50 L127.70,360.70 L128.30,363.50 L128.90,367.00 L129.60,371.00 L130.20,374.60 L131.10,377.50 L132.10,380.90 L133.00,382.50 L134.00,384.70 L135.00,385.30 L135.90,386.00 L139.00,386.60" fill="none" stroke="#2a2a2a" stroke-width="1.15"/>
<line x1="31.00" y1="399.50" x2="162.00" y2="399.50" stroke="#8a8a8a" stroke-width="1.0"/>
<text x="97.10" y="409.30" font-size="6.2" text-anchor="middle" font-weight="bold" fill="#111">CXCR4</text>
<line x1="201.50" y1="327.60" x2="201.50" y2="397.90" stroke="#3a3a3a" stroke-width="0.9"/>
<line x1="199.50" y1="327.60" x2="201.50" y2="327.60" stroke="#3a3a3a" stroke-width="0.9"/>
<text x="198.50" y="329.40" font-size="5.0" text-anchor="end" font-weight="bold" fill="#111">80</text>
<line x1="199.50" y1="341.10" x2="201.50" y2="341.10" stroke="#3a3a3a" stroke-width="0.9"/>
<text x="198.50" y="342.90" font-size="5.0" text-anchor="end" font-weight="bold" fill="#111">60</text>
<line x1="199.50" y1="360.40" x2="201.50" y2="360.40" stroke="#3a3a3a" stroke-width="0.9"/>
<text x="198.50" y="362.20" font-size="5.0" text-anchor="end" font-weight="bold" fill="#111">40</text>
<line x1="199.50" y1="379.00" x2="201.50" y2="379.00" stroke="#3a3a3a" stroke-width="0.9"/>
<text x="198.50" y="380.80" font-size="5.0" text-anchor="end" font-weight="bold" fill="#111">20</text>
<line x1="199.50" y1="397.90" x2="201.50" y2="397.90" stroke="#3a3a3a" stroke-width="0.9"/>
<text x="198.50" y="399.70" font-size="5.0" text-anchor="end" font-weight="bold" fill="#111">0</text>
<line x1="201.50" y1="397.90" x2="252.00" y2="397.90" stroke="#3a3a3a" stroke-width="0.9"/>
<line x1="214.20" y1="397.90" x2="214.20" y2="399.40" stroke="#3a3a3a" stroke-width="0.7"/>
<line x1="239.40" y1="397.90" x2="239.40" y2="399.40" stroke="#3a3a3a" stroke-width="0.7"/>
<line x1="214.25" y1="335.30" x2="214.25" y2="331.70" stroke="#222" stroke-width="0.9"/>
<line x1="210.22" y1="331.70" x2="218.28" y2="331.70" stroke="#222" stroke-width="0.9"/>
<rect x="206.20" y="335.30" width="16.10" height="62.60" fill="#151515" stroke="#111" stroke-width="0.5"/>
<line x1="239.45" y1="335.30" x2="239.45" y2="327.20" stroke="#222" stroke-width="0.9"/>
<line x1="235.32" y1="327.20" x2="243.57" y2="327.20" stroke="#222" stroke-width="0.9"/>
<rect x="231.55" y="335.65" width="15.80" height="62.25" fill="#a4a4a4" stroke="#3a3a3a" stroke-width="0.7"/>
<text x="213.90" y="408.10" font-size="6.2" text-anchor="middle" font-weight="bold" fill="#111">WT</text>
<text x="242.10" y="408.10" font-size="6.1" text-anchor="middle" font-weight="bold" fill="#111">PLC&#947;2 KO</text>
<text x="188.90" y="359.60" font-size="5.9" text-anchor="middle" font-weight="bold" fill="#111" transform="rotate(-90 188.9 359.6)">CXCR4 expression (%)</text>
<text x="302.90" y="37.10" font-size="6.8" text-anchor="middle" font-weight="bold" fill="#111">WT</text>
<text x="385.90" y="37.10" font-size="6.8" text-anchor="middle" font-weight="bold" fill="#111">PLC&#947;2 KO</text>
<rect x="273.90" y="40.90" width="58.00" height="57.80" fill="#202020" stroke="none" stroke-width="1"/>
<ellipse cx="304.6" cy="76" rx="19.6" ry="21.6" fill="#3e3e3e"/>
<ellipse cx="304.6" cy="76" rx="18.8" ry="20.8" fill="none" stroke="#505050" stroke-width="1.4" filter="url(#bl05)"/>
<ellipse cx="305" cy="77" rx="8.5" ry="9.5" fill="#5e5e5e" filter="url(#bl2)"/>
<g clip-path="url(#cc1)" opacity="0.17"><rect x="284" y="54" width="41" height="45" fill="#fff" filter="url(#nz)"/></g>
<ellipse cx="305" cy="81.5" rx="4" ry="3.2" fill="#383838" filter="url(#bl1)"/>
<g><circle cx="303.5" cy="74.7" r="0.44" fill="#7c7c7c"/><circle cx="311.3" cy="79.7" r="0.37" fill="#747474"/><circle cx="300.9" cy="79.5" r="0.36" fill="#a6a6a6"/><circle cx="296.5" cy="72.9" r="0.49" fill="#777777"/><circle cx="297.5" cy="83.2" r="0.49" fill="#757575"/><circle cx="309.1" cy="82.0" r="0.49" fill="#7f7f7f"/><circle cx="297.7" cy="73.8" r="0.50" fill="#7d7d7d"/><circle cx="301.3" cy="72.1" r="0.49" fill="#787878"/><circle cx="300.1" cy="72.0" r="0.54" fill="#a6a6a6"/><circle cx="296.1" cy="79.2" r="0.42" fill="#9e9e9e"/><circle cx="307.2" cy="68.6" r="0.37" fill="#8f8f8f"/><circle cx="302.9" cy="84.0" r="0.53" fill="#9b9b9b"/><circle cx="302.8" cy="87.1" r="0.48" fill="#7f7f7f"/><circle cx="307.8" cy="82.3" r="0.46" fill="#aeaeae"/><circle cx="307.6" cy="76.3" r="0.44" fill="#989898"/><circle cx="301.1" cy="83.0" r="0.37" fill="#aaaaaa"/><circle cx="309.1" cy="80.0" r="0.37" fill="#787878"/><circle cx="302.7" cy="69.0" r="0.42" fill="#a9a9a9"/><circle cx="299.1" cy="82.6" r="0.59" fill="#727272"/><circle cx="300.4" cy="83.4" r="0.36" fill="#afafaf"/><circle cx="305.4" cy="73.3" r="0.45" fill="#8f8f8f"/><circle cx="310.8" cy="73.3" r="0.46" fill="#858585"/><circle cx="296.5" cy="74.0" r="0.57" fill="#a7a7a7"/><circle cx="299.4" cy="84.6" r="0.39" fill="#8d8d8d"/><circle cx="305.7" cy="84.2" r="0.42" fill="#878787"/><circle cx="311.1" cy="77.2" r="0.50" fill="#9f9f9f"/><circle cx="310.9" cy="69.1" r="0.46" fill="#767676"/><circle cx="311.4" cy="69.6" r="0.45" fill="#a2a2a2"/><circle cx="299.8" cy="81.5" r="0.37" fill="#a3a3a3"/><circle cx="309.0" cy="79.0" r="0.38" fill="#848484"/><circle cx="302.5" cy="75.0" r="0.48" fill="#838383"/><circle cx="312.1" cy="74.4" r="0.57" fill="#797979"/><circle cx="302.2" cy="74.4" r="0.59" fill="#909090"/><circle cx="299.8" cy="72.7" r="0.56" fill="#7e7e7e"/><circle cx="311.5" cy="76.7" r="0.43" fill="#adadad"/><circle cx="310.1" cy="84.1" r="0.47" fill="#919191"/><circle cx="302.6" cy="70.0" r="0.59" fill="#8a8a8a"/><circle cx="301.4" cy="76.3" r="0.54" fill="#737373"/><circle cx="302.7" cy="85.0" r="0.52" fill="#7b7b7b"/><circle cx="309.2" cy="85.0" r="0.43" fill="#b0b0b0"/><circle cx="306.4" cy="86.3" r="0.55" fill="#888888"/><circle cx="308.4" cy="68.8" r="0.40" fill="#8d8d8d"/><circle cx="296.9" cy="77.4" r="0.55" fill="#737373"/><circle cx="300.9" cy="77.8" r="0.46" fill="#9c9c9c"/><circle cx="313.7" cy="73.0" r="0.37" fill="#9e9e9e"/><circle cx="310.2" cy="81.3" r="0.40" fill="#9b9b9b"/><circle cx="298.6" cy="70.0" r="0.47" fill="#707070"/><circle cx="300.1" cy="69.3" r="0.56" fill="#7a7a7a"/><circle cx="309.3" cy="81.5" r="0.47" fill="#898989"/><circle cx="308.7" cy="85.4" r="0.37" fill="#9a9a9a"/><circle cx="312.6" cy="74.1" r="0.45" fill="#ababab"/><circle cx="312.6" cy="74.1" r="0.60" fill="#858585"/><circle cx="312.2" cy="78.4" r="0.55" fill="#ababab"/><circle cx="310.2" cy="84.5" r="0.51" fill="#acacac"/><circle cx="300.8" cy="83.3" r="0.36" fill="#808080"/><circle cx="307.5" cy="68.5" r="0.48" fill="#7d7d7d"/><circle cx="310.7" cy="74.2" r="0.56" fill="#888888"/><circle cx="300.9" cy="74.2" r="0.56" fill="#a5a5a5"/><circle cx="312.6" cy="80.4" r="0.52" fill="#aaaaaa"/><circle cx="307.7" cy="70.1" r="0.38" fill="#b0b0b0"/><circle cx="308.9" cy="83.1" r="0.54" fill="#a8a8a8"/><circle cx="298.5" cy="71.2" r="0.39" fill="#838383"/><circle cx="297.0" cy="78.5" r="0.43" fill="#777777"/></g>
<circle cx="305.3" cy="73.1" r="0.8" fill="#d8d8d8"/>
<circle cx="306.1" cy="79" r="0.85" fill="#e8e8e8"/>
<circle cx="300.5" cy="76" r="0.6" fill="#a0a0a0"/>
<circle cx="309" cy="75.5" r="0.6" fill="#a0a0a0"/>
<circle cx="302.5" cy="70.5" r="0.6" fill="#909090"/>
<circle cx="308" cy="81" r="0.6" fill="#909090"/>
<circle cx="299" cy="51.2" r="1.5" fill="#f4f4f4"/>
<ellipse cx="322.4" cy="52.5" rx="1.3" ry="2.4" fill="#9a9a9a" transform="rotate(-20 322.4 52.5)"/>
<rect x="278.50" y="93.70" width="6.60" height="1.40" fill="#f0f0f0" stroke="none" stroke-width="1"/>
<rect x="354.00" y="40.60" width="58.20" height="57.80" fill="#202020" stroke="none" stroke-width="1"/>
<g filter="url(#bl08)">
<ellipse cx="387.4" cy="77" rx="10.2" ry="11.3" fill="url(#cell2)"/>
<ellipse cx="388.2" cy="75.2" rx="4.6" ry="4.4" fill="none" stroke="#e8e8e8" stroke-width="2.6"/>
<ellipse cx="385.8" cy="74.4" rx="2.0" ry="2.6" fill="#fafafa"/>
<ellipse cx="389.9" cy="76.4" rx="1.8" ry="2.2" fill="#6a6a6a"/>
<ellipse cx="388.0" cy="80.6" rx="1.8" ry="1.0" fill="#6a6a6a"/>
<ellipse cx="387.5" cy="84" rx="5" ry="2.5" fill="#4a4a4a" opacity="0.6"/>
<ellipse cx="408" cy="57" rx="2.5" ry="4" fill="#3a3a3a"/>
</g>
<rect x="359.60" y="93.20" width="6.20" height="1.40" fill="#f0f0f0" stroke="none" stroke-width="1"/>
<line x1="459.00" y1="17.60" x2="459.00" y2="95.00" stroke="#3a3a3a" stroke-width="0.9"/>
<line x1="457.00" y1="17.60" x2="459.00" y2="17.60" stroke="#3a3a3a" stroke-width="0.9"/>
<text x="456.00" y="19.72" font-size="5.9" text-anchor="end" font-weight="bold" fill="#111">10000</text>
<line x1="457.00" y1="36.80" x2="459.00" y2="36.80" stroke="#3a3a3a" stroke-width="0.9"/>
<text x="456.00" y="38.92" font-size="5.9" text-anchor="end" font-weight="bold" fill="#111">7500</text>
<line x1="457.00" y1="56.60" x2="459.00" y2="56.60" stroke="#3a3a3a" stroke-width="0.9"/>
<text x="456.00" y="58.72" font-size="5.9" text-anchor="end" font-weight="bold" fill="#111">5000</text>
<line x1="457.00" y1="75.50" x2="459.00" y2="75.50" stroke="#3a3a3a" stroke-width="0.9"/>
<text x="456.00" y="77.62" font-size="5.9" text-anchor="end" font-weight="bold" fill="#111">2500</text>
<line x1="457.00" y1="95.00" x2="459.00" y2="95.00" stroke="#3a3a3a" stroke-width="0.9"/>
<text x="456.00" y="97.12" font-size="5.9" text-anchor="end" font-weight="bold" fill="#111">0</text>
<line x1="459.00" y1="95.00" x2="510.60" y2="95.00" stroke="#3a3a3a" stroke-width="0.9"/>
<line x1="471.30" y1="95.00" x2="471.30" y2="96.50" stroke="#3a3a3a" stroke-width="0.7"/>
<line x1="497.50" y1="95.00" x2="497.50" y2="96.50" stroke="#3a3a3a" stroke-width="0.7"/>
<line x1="471.85" y1="35.10" x2="471.85" y2="30.40" stroke="#222" stroke-width="0.9"/>
<line x1="467.48" y1="30.40" x2="476.23" y2="30.40" stroke="#222" stroke-width="0.9"/>
<rect x="463.10" y="35.10" width="17.50" height="59.90" fill="#151515" stroke="#111" stroke-width="0.5"/>
<line x1="498.00" y1="65.30" x2="498.00" y2="63.50" stroke="#222" stroke-width="0.9"/>
<line x1="493.55" y1="63.50" x2="502.45" y2="63.50" stroke="#222" stroke-width="0.9"/>
<rect x="489.45" y="65.65" width="17.10" height="29.35" fill="#a4a4a4" stroke="#3a3a3a" stroke-width="0.7"/>
<line x1="496.70" y1="56.65" x2="496.70" y2="59.15" stroke="#111" stroke-width="0.85"/>
<line x1="497.78" y1="57.27" x2="495.62" y2="58.52" stroke="#111" stroke-width="0.85"/>
<line x1="497.78" y1="58.52" x2="495.62" y2="57.27" stroke="#111" stroke-width="0.85"/>
<line x1="499.20" y1="56.65" x2="499.20" y2="59.15" stroke="#111" stroke-width="0.85"/>
<line x1="500.28" y1="57.27" x2="498.12" y2="58.52" stroke="#111" stroke-width="0.85"/>
<line x1="500.28" y1="58.52" x2="498.12" y2="57.27" stroke="#111" stroke-width="0.85"/>
<text x="470.70" y="106.30" font-size="6.0" text-anchor="middle" font-weight="bold" fill="#111">WT</text>
<text x="499.00" y="106.30" font-size="5.9" text-anchor="middle" font-weight="bold" fill="#111">PLC&#947;2 KO</text>
<text x="433.90" y="55.30" font-size="6.6" text-anchor="middle" font-weight="bold" fill="#111" transform="rotate(-90 433.9 55.3)">Surface area (&#956;m<tspan dy="-2.2" font-size="4.2">2</tspan><tspan dy="2.2">)</tspan></text>
<text x="338.00" y="137.30" font-size="6.0" text-anchor="middle" font-weight="bold" fill="#111">WT</text>
<text x="368.00" y="137.30" font-size="5.9" text-anchor="middle" font-weight="bold" fill="#111">PLC&#947;2 KO</text>
<line x1="325.20" y1="139.50" x2="351.60" y2="139.50" stroke="#555" stroke-width="0.9"/>
<line x1="355.80" y1="139.30" x2="382.60" y2="139.30" stroke="#555" stroke-width="0.9"/>
<text x="326.70" y="156.00" font-size="6.4" text-anchor="start" font-weight="bold" fill="#111" transform="rotate(-45 326.7 156.0)">BSA</text>
<text x="343.50" y="155.40" font-size="6.4" text-anchor="start" font-weight="bold" fill="#111" transform="rotate(-45 343.5 155.4)">FN</text>
<text x="356.60" y="156.00" font-size="6.4" text-anchor="start" font-weight="bold" fill="#111" transform="rotate(-45 356.6 156.0)">BSA</text>
<text x="371.90" y="155.40" font-size="6.4" text-anchor="start" font-weight="bold" fill="#111" transform="rotate(-45 371.9 155.4)">FN</text>
<rect x="320.60" y="161.00" width="59.00" height="15.10" fill="url(#s1)" stroke="#4a4a4a" stroke-width="0.9"/>
<g filter="url(#bl1)"><rect x="323" y="163" width="44" height="6.5" fill="#a2a2a2" opacity="0.85"/><rect x="366" y="163.5" width="8" height="5" fill="#b4b4b4" opacity="0.6"/><ellipse cx="342.2" cy="168.8" rx="5.4" ry="1.5" fill="#707070"/><ellipse cx="327.5" cy="167.5" rx="3.5" ry="1.6" fill="#969696"/><rect x="322" y="171.5" width="56" height="3" fill="#cccccc" opacity="0.7"/></g>
<rect x="320.60" y="179.00" width="59.00" height="15.50" fill="#a7a7a7" stroke="#4a4a4a" stroke-width="0.9"/>
<g filter="url(#bl05)">
<rect x="323.2" y="185.45" width="9.80" height="2.3" rx="1" fill="#1e1e1e"/>
<rect x="336.9" y="185.45" width="11.10" height="2.3" rx="1" fill="#1e1e1e"/>
<rect x="352.0" y="185.30" width="10.40" height="2.6" rx="1" fill="#1e1e1e"/>
<rect x="365.7" y="185.45" width="11.10" height="2.3" rx="1" fill="#1e1e1e"/>
</g>
<text x="385.70" y="167.20" font-size="6.1" text-anchor="start" font-weight="bold" fill="#111">WLC</text>
<text x="385.70" y="174.60" font-size="6.1" text-anchor="start" font-weight="bold" fill="#111">blot:phospho-MLC</text>
<text x="385.70" y="189.30" font-size="6.1" text-anchor="start" font-weight="bold" fill="#111">blot: MLC</text>
</svg>
</body></html>
